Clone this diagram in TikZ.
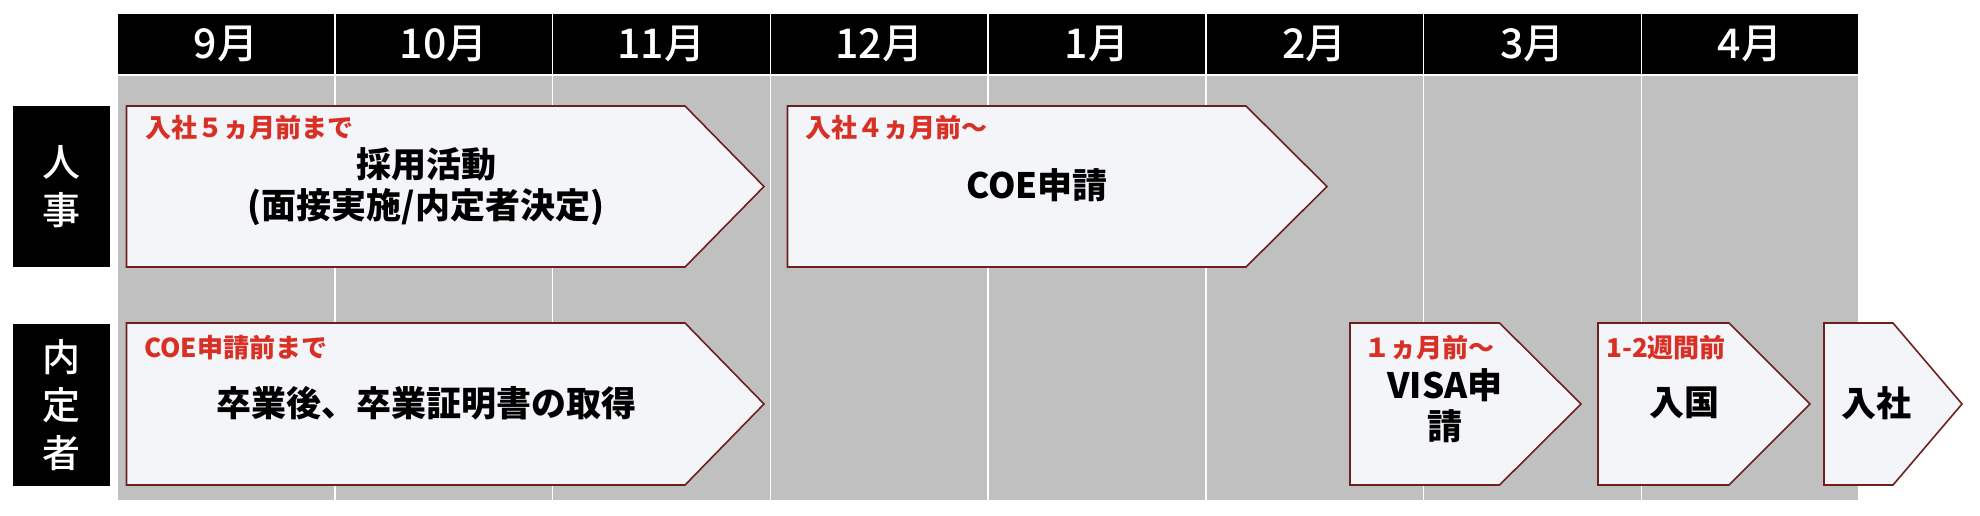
\documentclass[tikz,border=0pt]{standalone}
\usepackage{fontspec}
\setmainfont{Noto Sans CJK JP}
\newfontfamily\medjp{Noto Sans CJK JP Medium}
\usetikzlibrary{calc}
\definecolor{cellgray}{RGB}{192,192,192}
\definecolor{boxfill}{RGB}{244,245,249}
\definecolor{boxline}{RGB}{110,32,32}
\definecolor{notered}{RGB}{217,48,37}
\newcommand{\chevron}[5]{\draw[chev] (#1,#4) -- (#2,#4) -- (#3,{(#4+#5)/2}) -- (#2,#5) -- (#1,#5) -- cycle;}
\tikzset{
  chev/.style={fill=boxfill, draw=boxline, line width=1.6},
  note/.style={anchor=west, text=notered, inner sep=0, font={\fontsize{26}{30}\selectfont\bfseries}},
  task/.style={align=center, inner sep=0, font={\fontsize{35}{41}\selectfont\bfseries}},
  who/.style={align=center, text=white, inner sep=0, font={\fontsize{38}{48}\selectfont\medjp}}
}

\begin{document}
\begin{tikzpicture}[x=1pt,y=-1pt]
  \useasboundingbox (0,0) rectangle (1980,515);

  %% months and grid
  \foreach \m [count=\i from 0] in {9,10,11,12,1,2,3,4} {
    \pgfmathsetmacro{\xl}{117+217.75*\i}
    \draw[white, line width=1.5, fill=black] (\xl,13) rectangle ++(217.75,62);
    \draw[white, line width=1.5, fill=cellgray] (\xl,75) rectangle ++(217.75,426);
    \node[text=white, font={\fontsize{41}{41}\selectfont\medjp}] (m\i) at (\xl+108.9,44) {\m 月};
  }

  %% row labels
  \fill (13,106) rectangle (110,267);
  \fill (13,324) rectangle (110,486);
  \node[who] (hr) at (61,186.5) {人\\事};
  \node[who] (cand) at (61,405) {内\\定\\者};

  %% row 1
  \chevron{126.5}{685}{764}{106}{267}
  \chevron{787.5}{1246}{1327}{106}{267}
  \node[note] (n1) at (145,128) {入社５ヵ月前まで};
  \node[task] (t1) at (426,187) {採用活動\\(面接実施/内定者決定)};
  \node[note] (n2) at (805,128) {入社４ヵ月前〜};
  \node[task] (t2) at (1037,185) {COE申請};

  %% row 2
  \chevron{126.5}{685}{764}{323}{485}
  \chevron{1350}{1499.5}{1581}{323}{485}
  \chevron{1598}{1729}{1810}{323}{485}
  \chevron{1824}{1893}{1962}{323}{485}
  \node[note] (n3) at (144,348) {COE申請前まで};
  \node[task] (t3) at (426,403) {卒業後、卒業証明書の取得};
  \node[note] (n4) at (1364,348) {１ヵ月前〜};
  \node[task] (t4) at (1445,406) {VISA申\\請};
  \node[note] (n5) at (1606,348) {1-2週間前};
  \node[task] (t5) at (1684,403) {入国};
  \node[task] (t6) at (1876,403) {入社};
\end{tikzpicture}
\end{document}
